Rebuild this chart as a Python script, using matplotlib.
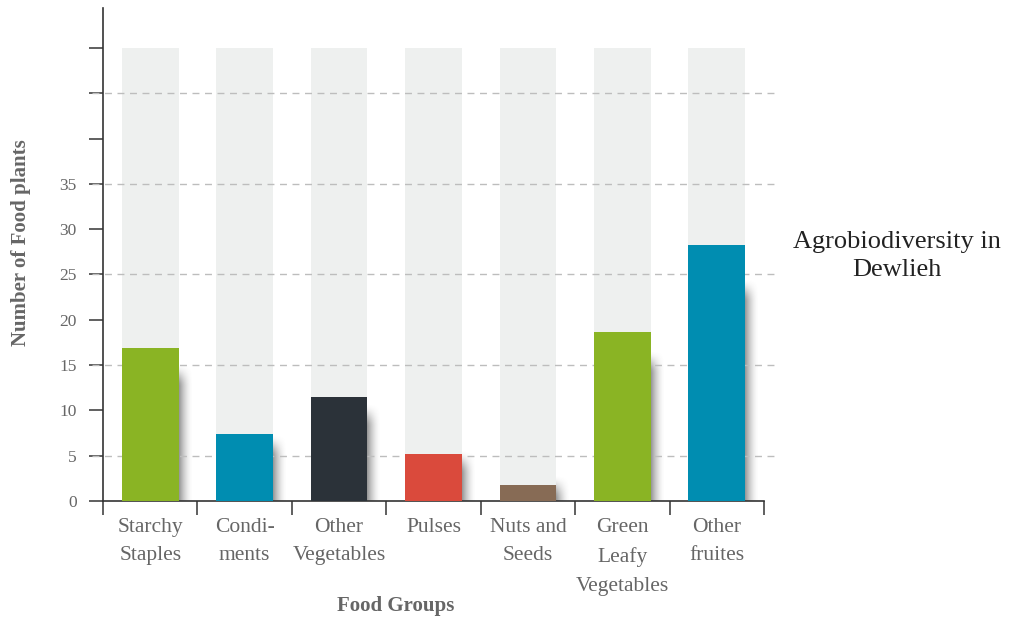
import matplotlib
matplotlib.use("Agg")
import matplotlib.pyplot as plt
import numpy as np

categories = ["Starchy\nStaples", "Condi-\nments", "Other\nVegetables", "Pulses",
              "Nuts and\nSeeds", "Green\nLeafy\nVegetables", "Other\nfruites"]
values = [16.9, 7.4, 11.5, 5.2, 1.8, 18.7, 28.3]
background_max = 50
colors = ["#8ab424", "#008db1", "#2b3239", "#da4a3c", "#876b55", "#8ab424", "#008db1"]
yticks_labeled = [0, 5, 10, 15, 20, 25, 30, 35]
yticks_all = [0, 5, 10, 15, 20, 25, 30, 35, 40, 45, 50]
grid_levels = [5, 15, 25, 35, 45]
title = "Agrobiodiversity in\nDewlieh"

plt.rcParams['font.family'] = ['Liberation Serif', 'DejaVu Serif']

W, H = 1010, 621
fig = plt.figure(figsize=(W/100, H/100), dpi=100)
ax = fig.add_axes([103/W, 120/H, (764-103)/W, (501-8)/H])

n = len(categories)
x = np.arange(n)
bw = 0.6

# background bars
ax.bar(x, [background_max]*n, width=bw, color="#eef0ef", zorder=1)

# grid lines
for g in grid_levels:
    ax.axhline(g, xmin=-0.016, xmax=1.021, color="#bdbdbd", lw=1.0,
               ls=(0, (5, 4)), zorder=2, clip_on=False)

# blurred shadows
px = 1/94.3
for xi, v in zip(x, values):
    top = v*0.82
    blur = 1.3
    x0 = xi + bw/2
    x1 = x0 + 13*px
    y1 = top + blur
    nx, ny = 40, 200
    u = np.linspace(0, 1, nx)
    yy = np.linspace(0, y1, ny)
    fx = (1 - u)**1.7
    t = np.clip((top - yy)/blur*0.5 + 0.5, 0, 1)
    fy = t*t*(3 - 2*t)
    alpha = 0.62*np.outer(fy, fx)
    img = np.zeros((ny, nx, 4))
    img[..., 0:3] = 0.33
    img[..., 3] = alpha
    ax.imshow(img, extent=[x0, x1, 0, y1], origin="lower", aspect="auto",
              zorder=1.5, interpolation="bilinear")

# value bars
ax.bar(x, values, width=bw, color=colors, zorder=3)

ax.set_xlim(-0.5, n-0.5)
ax.set_ylim(0, 54.4)

for s in ["top", "right"]:
    ax.spines[s].set_visible(False)
ax.spines["left"].set_color("#333333")
ax.spines["bottom"].set_color("#333333")
ax.spines["left"].set_linewidth(1.2)
ax.spines["bottom"].set_linewidth(1.2)

ax.set_yticks(yticks_all)
ax.set_yticklabels([str(t) if t in yticks_labeled else "" for t in yticks_all],
                   fontsize=12.5, color="#666666")
ax.tick_params(axis="y", length=10, width=1.2, color="#444444", pad=9)

ax.set_xticks(x)
ax.set_xticklabels(categories, fontsize=15.5, color="#666666", linespacing=1.7,
                   va="top")
ax.tick_params(axis="x", which="major", length=0, pad=12)
ax.set_xticks(np.arange(-0.5, n, 1.0), minor=True)
ax.tick_params(axis="x", which="minor", length=10, width=1.2, color="#444444")

fig.text(396/W, 1-606/H, "Food Groups", ha="center", va="center",
         fontsize=15, fontweight="bold", color="#666666")
fig.text(21/W, 1-243/H, "Number of Food plants", ha="center", va="center",
         rotation=90, fontsize=15, fontweight="bold", color="#666666")

fig.text(897/W, 1-256/H, title, ha="center", va="center", fontsize=19,
         color="#222222", linespacing=1.35)

fig.savefig("out.png", dpi=100)
